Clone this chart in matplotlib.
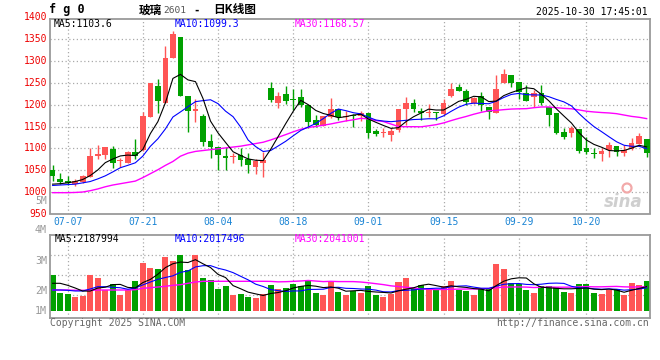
import numpy as np
import pandas as pd
import matplotlib
matplotlib.use("Agg")
import matplotlib.pyplot as plt
import matplotlib.transforms as mtransforms
from matplotlib.patches import Rectangle, Ellipse

plt.rcParams['font.family'] = ['DejaVu Sans Mono', 'Liberation Mono']

# trading days shown
dates = ["07-03", "07-04", "07-07", "07-08", "07-09", "07-10", "07-11",
         "07-14", "07-15", "07-16", "07-17", "07-18", "07-21", "07-22",
         "07-23", "07-24", "07-25", "07-28", "07-29", "07-30", "07-31",
         "08-01", "08-04", "08-05", "08-06", "08-07", "08-08", "08-11",
         "08-12", "08-13", "08-14", "08-15", "08-18", "08-19", "08-20",
         "08-21", "08-22", "08-25", "08-26", "08-27", "08-28", "08-29",
         "09-01", "09-02", "09-03", "09-04", "09-05", "09-08", "09-09",
         "09-10", "09-11", "09-12", "09-15", "09-16", "09-17", "09-18",
         "09-19", "09-22", "09-23", "09-24", "09-25", "09-26", "09-29",
         "09-30", "10-09", "10-10", "10-13", "10-14", "10-15", "10-16",
         "10-17", "10-20", "10-21", "10-22", "10-23", "10-24", "10-27",
         "10-28", "10-29", "10-30"]
label_dates = ["07-07", "07-21", "08-04", "08-18", "09-01", "09-15", "09-29", "10-20"]

opens = [1050, 1029, 1025, 1018, 1024, 1035, 1082, 1085, 1098, 1070,
         1067, 1091, 1096, 1172, 1243, 1205, 1308, 1356, 1220, 1186,
         1175, 1117, 1102, 1083, 1080, 1085, 1076, 1058, 1066, 1239,
         1205, 1224, 1213, 1217, 1199, 1165, 1152, 1172, 1190, 1171,
         1176, 1174, 1182, 1140, 1135, 1131, 1142, 1190, 1205, 1186,
         1182, 1184, 1178, 1221, 1241, 1231, 1205, 1220, 1194, 1182,
         1250, 1268, 1252, 1226, 1218, 1226, 1194, 1180, 1138, 1136,
         1144, 1100, 1089, 1087, 1096, 1106, 1089, 1098, 1111, 1121]
highs = [1062, 1043, 1036, 1030, 1039, 1101, 1108, 1104, 1105, 1079,
         1094, 1121, 1184, 1250, 1259, 1334, 1369, 1356, 1220, 1212,
         1179, 1134, 1104, 1104, 1090, 1100, 1089, 1076, 1092, 1253,
         1230, 1243, 1237, 1237, 1199, 1176, 1174, 1216, 1191, 1186,
         1179, 1186, 1182, 1145, 1146, 1146, 1190, 1218, 1213, 1192,
         1201, 1184, 1212, 1249, 1247, 1237, 1217, 1229, 1195, 1268,
         1282, 1268, 1252, 1245, 1234, 1245, 1195, 1180, 1146, 1152,
         1144, 1125, 1100, 1100, 1114, 1106, 1108, 1123, 1136, 1121]
lows = [1025, 1018, 1015, 1014, 1021, 1035, 1075, 1075, 1056, 1058,
        1066, 1076, 1094, 1172, 1182, 1203, 1308, 1220, 1138, 1161,
        1106, 1077, 1050, 1050, 1066, 1060, 1044, 1041, 1035, 1207,
        1192, 1201, 1188, 1195, 1146, 1150, 1152, 1169, 1165, 1163,
        1150, 1163, 1123, 1128, 1127, 1117, 1138, 1154, 1184, 1165,
        1171, 1165, 1176, 1217, 1232, 1199, 1202, 1186, 1167, 1181,
        1249, 1241, 1212, 1209, 1195, 1199, 1151, 1133, 1121, 1125,
        1090, 1088, 1079, 1072, 1081, 1083, 1083, 1097, 1110, 1080]
closes = [1037, 1024, 1020, 1025, 1037, 1082, 1088, 1104, 1067, 1072,
          1092, 1082, 1174, 1249, 1209, 1308, 1361, 1220, 1186, 1189,
          1115, 1102, 1085, 1077, 1082, 1073, 1062, 1070, 1073, 1211,
          1220, 1209, 1211, 1199, 1161, 1154, 1174, 1190, 1172, 1173,
          1173, 1182, 1136, 1134, 1137, 1140, 1190, 1205, 1190, 1180,
          1184, 1180, 1205, 1237, 1232, 1207, 1215, 1199, 1183, 1237,
          1270, 1250, 1228, 1209, 1226, 1205, 1176, 1136, 1127, 1146,
          1095, 1091, 1086, 1095, 1108, 1091, 1096, 1112, 1128, 1090]
# volume in millions of lots
volumes = [2.77, 1.885, 1.835, 1.685, 1.735, 2.77, 2.635, 2.05, 2.335, 1.785,
           2.02, 2.5, 3.385, 3.135, 3.085, 3.67, 3.47, 3.8, 3.02, 3.8,
           2.635, 2.535, 2.085, 2.235, 1.785, 1.85, 1.685, 1.65, 1.835, 2.285,
           2.085, 2.135, 2.335, 2.235, 2.535, 1.885, 1.785, 2.485, 1.935, 1.785,
           1.985, 1.885, 2.235, 1.785, 1.685, 1.835, 2.435, 2.635, 2.135, 2.285,
           2.135, 2.085, 2.235, 2.485, 2.035, 1.985, 1.785, 2.085, 2.085, 3.335,
           3.085, 2.385, 2.335, 2.035, 1.885, 2.235, 2.235, 2.185, 1.935, 1.885,
           2.335, 2.335, 1.885, 1.835, 2.02, 2.085, 1.785, 2.385, 2.285, 2.485]

# moving average values before a full window is available
ma5_head = [1018, 1019, 1021, 1024]
ma10_head = [1015, 1016, 1017, 1018, 1021, 1024, 1030, 1037, 1046]
ma30_head = [998.5, 998.5, 998.5, 999, 1000, 1003, 1007, 1012, 1016, 1019,
             1022, 1025, 1033, 1042, 1051, 1061, 1070, 1082, 1089, 1093,
             1095, 1097, 1099, 1101, 1103, 1105, 1108, 1111, 1114]
vma5_head = [2.37, 2.37, 2.27, 2.135]
vma10_head = [2.035, 2.035, 2.02, 1.985, 1.985, 2.085, 2.2, 2.2, 2.17]
vma30_head = [2.035, 2.035, 2.035, 2.02, 2.02, 2.02, 2.035, 2.035, 2.035, 2.035,
              2.035, 2.05, 2.12, 2.15, 2.185, 2.22, 2.27, 2.3, 2.37, 2.435,
              2.47, 2.47, 2.47, 2.47, 2.47, 2.47, 2.47, 2.47, 2.47]

RED = "#ff5555"
GREEN = "#00a000"
GRID = "#aaaaaa"
FRAME = "#9a9a9a"


def moving(values, win, head):
    out = pd.Series(values).rolling(win).mean().to_numpy()
    out[:win - 1] = head
    return out


n = len(closes)
x = np.arange(n)
W, H = 660.0, 360.0

fig = plt.figure(figsize=(6.6, 3.6), dpi=100)
fig.patch.set_facecolor("white")
ax = fig.add_axes([50.5 / W, 1 - 213.5 / H, 599 / W, 195 / H])
axv = fig.add_axes([50.5 / W, 1 - 317.5 / H, 599 / W, 83 / H])

for a in (ax, axv):
    a.set_xlim(-0.28, 79.38)
    for s in a.spines.values():
        s.set_color(FRAME)
        s.set_linewidth(1.3)
    a.tick_params(length=0)
    a.set_yticks([])

ax.set_ylim(950.8, 1397.4)
axv.set_ylim(0.66, 4.81)

tick_idx = [dates.index(d) for d in label_dates]

# grid
for lvl in range(1000, 1351, 50):
    ax.axhline(lvl, color=GRID, lw=0.9, ls=(0, (1, 2)), zorder=0)
for v in (3.8, 2.77, 1.8):
    axv.axhline(v, color=GRID, lw=0.9, ls=(0, (1, 2)), zorder=0)
for t in tick_idx:
    ax.axvline(t, color=GRID, lw=0.9, ls=(0, (1, 2)), zorder=0)
    axv.axvline(t, color=GRID, lw=0.9, ls=(0, (1, 2)), zorder=0)

# candles and volume bars
for i in range(n):
    o, h, l, c = opens[i], highs[i], lows[i], closes[i]
    col = RED if c >= o else GREEN
    ax.vlines(i, l, h, color=col, lw=1.0, zorder=2)
    body = max(abs(c - o), 2.3)
    ax.add_patch(Rectangle((i - 0.38, min(o, c)), 0.76, body,
                           facecolor=col, edgecolor="none", zorder=3))
    axv.add_patch(Rectangle((i - 0.4, 1.0), 0.8, volumes[i] - 1.0,
                            facecolor=col, edgecolor="none", zorder=2))

ma5 = moving(closes, 5, ma5_head)
ma10 = moving(closes, 10, ma10_head)
ma30 = moving(closes, 30, ma30_head)
ax.plot(x, ma30, color="#ff00ff", lw=1.0, zorder=4)
ax.plot(x, ma10, color="#0000ff", lw=0.8, zorder=4)
ax.plot(x, ma5, color="black", lw=0.8, zorder=5)

vma5 = moving(volumes, 5, vma5_head)
vma10 = moving(volumes, 10, vma10_head)
vma30 = moving(volumes, 30, vma30_head)
axv.plot(x, vma30, color="#ff00ff", lw=1.0, zorder=4)
axv.plot(x, vma10, color="#0000ff", lw=0.8, zorder=4)
axv.plot(x, vma5, color="black", lw=0.8, zorder=5)

# axis labels
ax.set_xticks(tick_idx)
ax.set_xticklabels(label_dates, color="#1a84d4", fontsize=7)
ax.tick_params(axis="x", pad=2.5)
axv.set_xticks([])

trans = mtransforms.blended_transform_factory(ax.transAxes, ax.transData)
for lvl in range(950, 1401, 50):
    ax.text(-0.006, lvl, str(lvl), transform=trans, ha="right", va="center",
            color="#ee0000", fontsize=7, clip_on=False)

fs = 7
fig.text(47 / W, 1 - 201 / H, "5M", ha="right", va="center", color="#999999", fontsize=7)
for lab, py in (("4M", 230), ("3M", 260.7), ("2M", 290.7), ("1M", 310.7)):
    fig.text(47 / W, 1 - py / H, lab, ha="right", va="center", color="#999999", fontsize=7.2)

# header
fig.text(49 / W, 1 - 10 / H, "f g 0", ha="left", va="center", fontsize=8.5,
         fontweight="bold")
fig.text(139 / W, 1 - 10 / H, "玻璃", ha="left", va="center", fontsize=8.4,
         family=["Noto Sans CJK SC"], fontweight="bold")
fig.text(163 / W, 1 - 10.5 / H, "2601", ha="left", va="center", fontsize=6.8,
         color="#555555")
fig.text(194 / W, 1 - 10 / H, "-", ha="left", va="center", fontsize=8.4,
         family=["Noto Sans CJK SC"], fontweight="bold")
fig.text(213 / W, 1 - 10 / H, "日K线图", ha="left", va="center", fontsize=8.4,
         family=["Noto Sans CJK SC"], fontweight="bold")
fig.text(648 / W, 1 - 12 / H, "2025-10-30 17:45:01", ha="right", va="center",
         fontsize=fs)

fig.text(54 / W, 1 - 24 / H, "MA5:1103.6", color="black", fontsize=fs, va="center")
fig.text(175 / W, 1 - 24 / H, "MA10:1099.3", color="#0000ff", fontsize=fs, va="center")
fig.text(295 / W, 1 - 24 / H, "MA30:1168.57", color="#ff00ff", fontsize=fs, va="center")
fig.text(55 / W, 1 - 238.5 / H, "MA5:2187994", color="black", fontsize=fs, va="center")
fig.text(175 / W, 1 - 238.5 / H, "MA10:2017496", color="#0000ff", fontsize=fs, va="center")
fig.text(295 / W, 1 - 238.5 / H, "MA30:2041001", color="#ff00ff", fontsize=fs, va="center")

fig.text(50 / W, 1 - 323.5 / H, "Copyright 2025 SINA.COM", color="#666666",
         fontsize=fs, va="center")
fig.text(649 / W, 1 - 323.5 / H, "http://finance.sina.com.cn", color="#666666",
         fontsize=fs, va="center", ha="right")

# sina watermark
fig.text(623 / W, 1 - 202 / H, "sina", ha="center", va="center", fontsize=12,
         style="italic", fontweight="bold", color="#cfcfcf", family="DejaVu Sans")
fig.add_artist(Ellipse((627 / W, 1 - 188 / H), 9 / W, 9 / H, transform=fig.transFigure,
                       facecolor="none", edgecolor="#f2a9a9", lw=1.6))

fig.savefig("out.png", dpi=100)
